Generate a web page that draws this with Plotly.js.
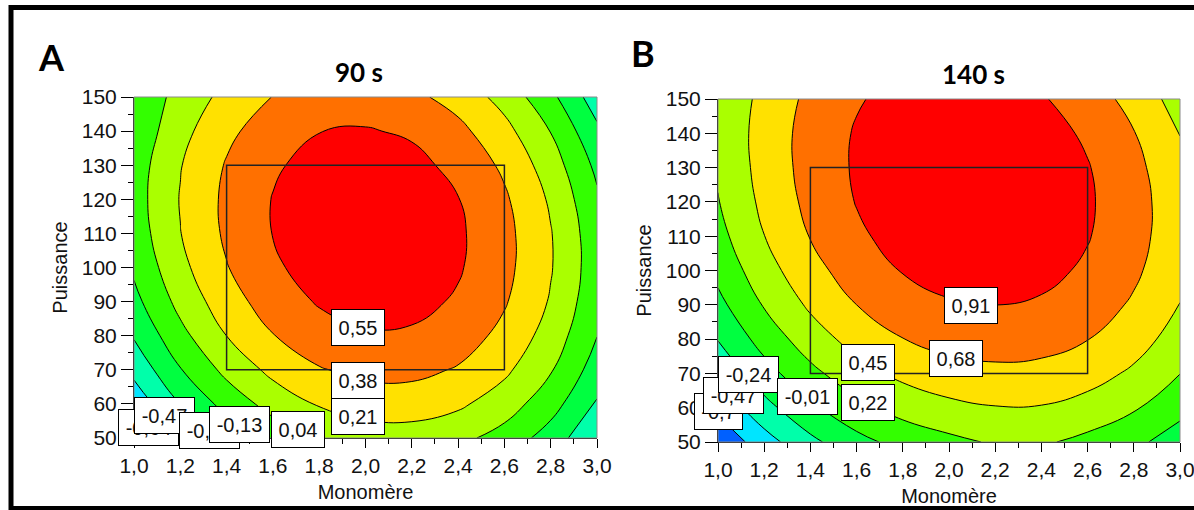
<!DOCTYPE html>
<html>
<head>
<meta charset="utf-8">
<script src="https://cdn.plot.ly/plotly-3.0.1.min.js"></script>
<style>
html,body{margin:0;padding:0;background:#fff;}
#chart{width:1194px;height:510px;}
</style>
</head>
<body>
<div id="chart"></div>
<script>
// ---- data ----
const monomere  = [1.0, 1.2, 1.4, 1.6, 1.8, 2.0, 2.2, 2.4, 2.6, 2.8, 3.0];
const puissance = [50, 60, 70, 80, 90, 100, 110, 120, 130, 140, 150];

// response at 90 s (rows = puissance, columns = monomere)
const response90s = [
  [-0.779,-0.487,-0.251,-0.071, 0.053, 0.121, 0.133, 0.085,-0.026,-0.205,-0.454],
  [-0.585,-0.298,-0.068, 0.107, 0.225, 0.287, 0.294, 0.240, 0.123,-0.061,-0.316],
  [-0.420,-0.139, 0.086, 0.255, 0.368, 0.425, 0.425, 0.366, 0.244, 0.054,-0.207],
  [-0.284,-0.009, 0.211, 0.374, 0.481, 0.532, 0.527, 0.462, 0.334, 0.139,-0.127],
  [-0.178, 0.092, 0.306, 0.463, 0.565, 0.611, 0.600, 0.530, 0.396, 0.195,-0.077],
  [-0.101, 0.164, 0.372, 0.524, 0.620, 0.660, 0.643, 0.567, 0.428, 0.222,-0.055],
  [-0.053, 0.206, 0.408, 0.554, 0.645, 0.679, 0.657, 0.576, 0.431, 0.219,-0.064],
  [-0.035, 0.218, 0.415, 0.556, 0.641, 0.670, 0.642, 0.555, 0.405, 0.187,-0.102],
  [-0.046, 0.202, 0.393, 0.528, 0.607, 0.631, 0.597, 0.505, 0.349, 0.126,-0.169],
  [-0.086, 0.156, 0.341, 0.471, 0.548, 0.562, 0.528, 0.425, 0.263, 0.035,-0.265],
  [-0.100, 0.100, 0.260, 0.384, 0.452, 0.464, 0.420, 0.316, 0.149,-0.086,-0.391]
];

// response at 140 s
const response140s = [
  [-0.894,-0.566,-0.296,-0.084, 0.069, 0.164, 0.245, 0.250, 0.160, 0.046,-0.127],
  [-0.641,-0.317,-0.052, 0.155, 0.303, 0.393, 0.440, 0.437, 0.367, 0.245, 0.064],
  [-0.419,-0.101, 0.160, 0.362, 0.505, 0.591, 0.627, 0.613, 0.542, 0.412, 0.223],
  [-0.230, 0.084, 0.340, 0.537, 0.676, 0.756, 0.786, 0.764, 0.685, 0.547, 0.351],
  [-0.072, 0.237, 0.488, 0.680, 0.814, 0.890, 0.913, 0.884, 0.796, 0.650, 0.446],
  [ 0.054, 0.358, 0.604, 0.792, 0.921, 0.992, 1.009, 0.971, 0.876, 0.722, 0.509],
  [ 0.148, 0.447, 0.689, 0.871, 0.996, 1.062, 1.072, 1.027, 0.923, 0.761, 0.541],
  [ 0.210, 0.505, 0.741, 0.919, 1.039, 1.100, 1.104, 1.051, 0.939, 0.769, 0.541],
  [ 0.247, 0.536, 0.766, 0.938, 1.052, 1.107, 1.104, 1.043, 0.923, 0.745, 0.509],
  [ 0.263, 0.544, 0.766, 0.930, 1.036, 1.083, 1.072, 1.003, 0.875, 0.689, 0.445],
  [ 0.248, 0.520, 0.735, 0.890, 0.988, 1.027, 1.008, 0.931, 0.795, 0.602, 0.349]
];

const levels90s  = [-0.64, -0.47, -0.30, -0.13, 0.04, 0.21, 0.38, 0.55];
const levels140s = [-0.70, -0.47, -0.24, -0.01, 0.22, 0.45, 0.68, 0.91];

const levelText90s  = ['-0,64', '-0,47', '-0,30', '-0,13', '0,04', '0,21', '0,38', '0,55'];
const labelMono90s  = [1.063, 1.13, 1.324, 1.456, 1.708, 1.968, 1.968, 1.968];
const labelPuis90s  = [53.2, 56.6, 52.3, 54.1, 52.5, 56.2, 67.0, 82.4];

const levelText140s = ['-0,7', '-0,47', '-0,24', '-0,01', '0,22', '0,45', '0,68', '0,91'];
const labelMono140s = [1.0, 1.067, 1.13, 1.387, 1.649, 1.649, 2.032, 2.095];
const labelPuis140s = [58.9, 63.7, 69.8, 63.3, 61.4, 73.2, 74.2, 89.9];

const designMono = [1.4, 2.6];
const designPuis = [70, 130];

const panelTitles = ['90 s', '140 s'];
const panelLetters = ['A', 'B'];

// ---- styles ----
const bandColors = ['#0060ff','#00e5ff','#00ffaa','#00ff40','#33ff00','#aaff00','#ffe100','#ff7000','#ff0000'];
const W = 1194, H = 510;
const sansFamily = 'Liberation Sans, Arial, sans-serif';
const tickFont = {family:sansFamily, size:21, color:'#111'};
const axTitleFont = {family:sansFamily, size:20, color:'#111'};
const boldFont = {family:'Lato, Open Sans, sans-serif', color:'#000', weight:700};

function contourTrace(z, levels, xa, ya) {
  const n = levels.length;
  return {
    type:'contour', x:monomere, y:puissance, z:z, xaxis:xa, yaxis:ya,
    autocontour:false,
    contours:{start:levels[0], end:levels[n-1], size:(levels[n-1]-levels[0])/(n-1), coloring:'fill', showlines:true},
    colorscale:bandColors.map((c,i)=>[i/(bandColors.length-1), c]),
    line:{color:'#000', width:1, smoothing:1.3},
    showscale:false, hoverinfo:'skip'
  };
}

function xAxis(domain, anchor) {
  return {
    domain:domain, anchor:anchor, range:[1,3], tick0:1, dtick:0.2, tickformat:'.1f',
    ticks:'outside', ticklen:9, tickwidth:1, tickcolor:'#000',
    minor:{dtick:0.1, ticks:'outside', ticklen:5, tickcolor:'#000'},
    showline:true, linecolor:'#000', linewidth:1, showgrid:false, zeroline:false,
    ticklabeloverflow:'allow',
    tickfont:tickFont, title:{text:'Monomère', font:axTitleFont, standoff:8}, automargin:false
  };
}
function yAxis(domain, anchor) {
  return {
    domain:domain, anchor:anchor, range:[50,150], tick0:50, dtick:10,
    ticks:'outside', ticklen:12, tickwidth:1, tickcolor:'#000',
    minor:{dtick:5, ticks:'outside', ticklen:5, tickcolor:'#000'},
    showline:true, linecolor:'#000', linewidth:1, showgrid:false, zeroline:false,
    ticklabeloverflow:'allow',
    tickfont:tickFont, title:{text:'Puissance', font:axTitleFont, standoff:8}, automargin:false
  };
}

function labelAnns(texts, xs, ys, xr, yr) {
  return texts.map((t,i)=>({
    xref:xr, yref:yr, x:xs[i], y:ys[i], text:t, showarrow:false,
    width: t.length >= 5 ? 53 : (t[0] === '-' ? 41 : 46), height:29,
    bgcolor:'#fff', bordercolor:'#000', borderwidth:1, borderpad:3,
    font:{family:sansFamily, size:20, color:'#111'}
  }));
}

const traces = [
  contourTrace(response90s, levels90s, 'x', 'y'),
  contourTrace(response140s, levels140s, 'x2', 'y2')
];

const shapes = [
  {type:'rect', xref:'x domain', yref:'y domain', x0:0, x1:1, y0:0, y1:1, line:{color:'#8a8a8a', width:1}},
  {type:'rect', xref:'x2 domain', yref:'y2 domain', x0:0, x1:1, y0:0, y1:1, line:{color:'#8a8a8a', width:1}},
  {type:'rect', xref:'x', yref:'y', x0:designMono[0], x1:designMono[1], y0:designPuis[0], y1:designPuis[1], line:{color:'#222', width:1.5}},
  {type:'rect', xref:'x2', yref:'y2', x0:designMono[0], x1:designMono[1], y0:designPuis[0], y1:designPuis[1], line:{color:'#222', width:1.5}},
  {type:'rect', xref:'paper', yref:'paper', x0:11/W, x1:1.02, y0:1-508.5/H, y1:1-7.5/H, line:{color:'#000', width:5}}
];

const annotations = [
  {xref:'paper', yref:'paper', x:51/W, y:1-57/H, text:panelLetters[0], showarrow:false, xanchor:'center', yanchor:'middle', font:Object.assign({size:36}, boldFont)},
  {xref:'paper', yref:'paper', x:643/W, y:1-53/H, text:panelLetters[1], showarrow:false, xanchor:'center', yanchor:'middle', font:Object.assign({size:36}, boldFont)},
  {xref:'paper', yref:'paper', x:359/W, y:1-72/H, text:panelTitles[0], showarrow:false, xanchor:'center', yanchor:'middle', font:Object.assign({size:26}, boldFont)},
  {xref:'paper', yref:'paper', x:973/W, y:1-74/H, text:panelTitles[1], showarrow:false, xanchor:'center', yanchor:'middle', font:Object.assign({size:26}, boldFont)}
].concat(
  labelAnns(levelText90s, labelMono90s, labelPuis90s, 'x', 'y'),
  labelAnns(levelText140s, labelMono140s, labelPuis140s, 'x2', 'y2')
);

const layout = {
  width:W, height:H, margin:{l:0, r:0, t:0, b:0},
  paper_bgcolor:'#fff', plot_bgcolor:'#fff', showlegend:false, separators:', ',
  xaxis: xAxis([134/W, 597/W], 'y'),
  yaxis: yAxis([1-438/H, 1-97/H], 'x'),
  xaxis2: xAxis([718/W, 1180/W], 'y2'),
  yaxis2: yAxis([1-442/H, 1-99/H], 'x2'),
  shapes:shapes, annotations:annotations
};

Plotly.newPlot('chart', traces, layout, {staticPlot:true, displayModeBar:false});
</script>
</body>
</html>
